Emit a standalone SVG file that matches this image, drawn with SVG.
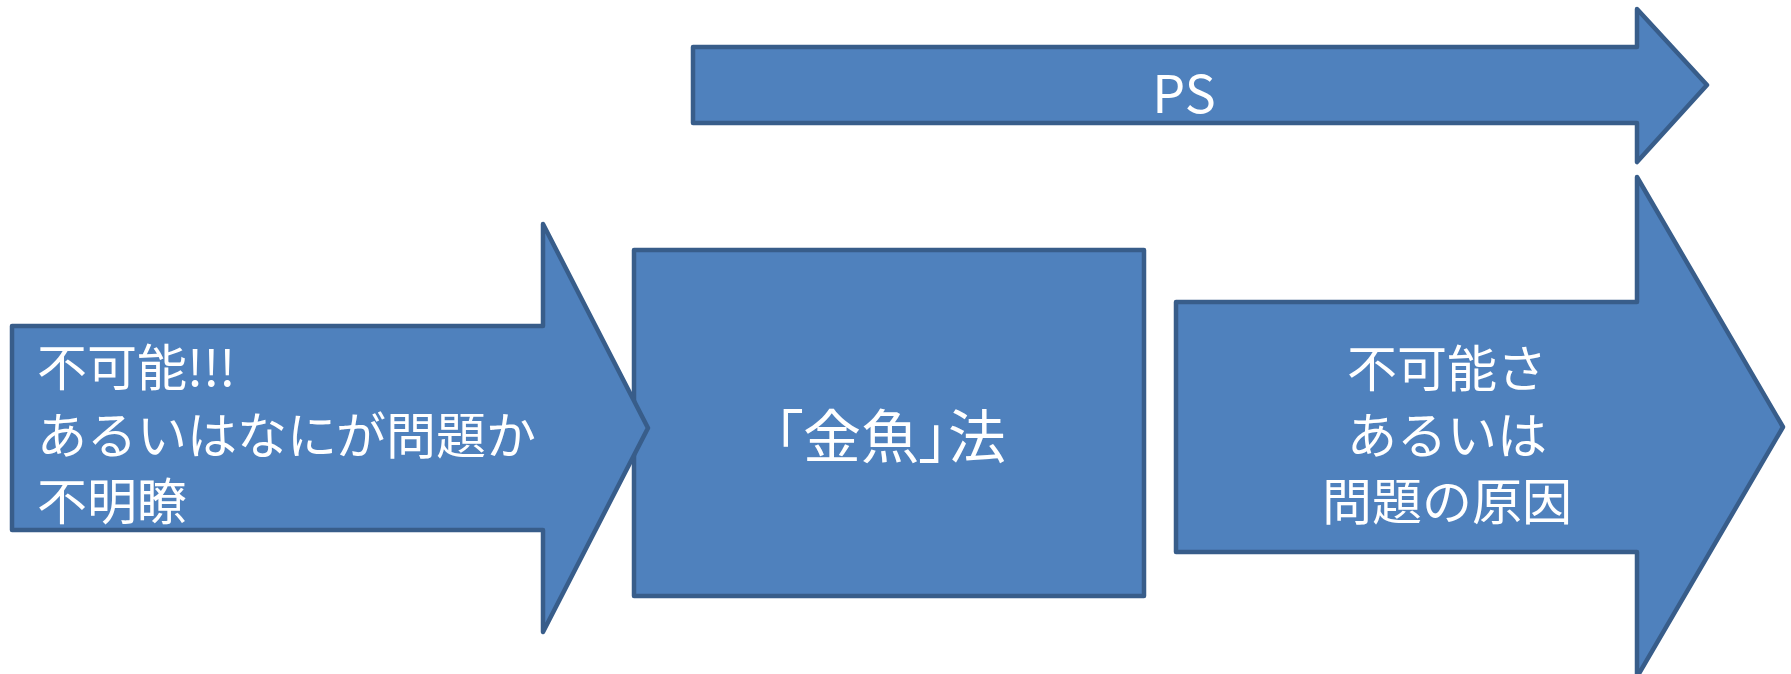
<svg xmlns="http://www.w3.org/2000/svg" width="1791" height="674" viewBox="0 0 1791 674">
<style>
.shape{fill:#4F81BD;stroke:#385D8A;stroke-width:4.5;stroke-linejoin:round}
.t{fill:#FFFFFF;font-family:"Noto Sans CJK JP","Noto Sans",sans-serif;font-size:50px}
.c{text-anchor:middle}
</style>
<rect width="1791" height="674" fill="#FFFFFF"/>
<g id="connectors"></g>
<g id="node-ps">
<polygon class="shape" points="693,47 1637,47 1637,9 1707,85 1637,162 1637,123 693,123"/>
<text class="t c" x="1184" y="113" style="font-size:52px">PS</text>
</g>
<g id="node-kingyo">
<rect class="shape" x="634" y="250" width="510" height="346"/>
<text class="t c" x="890" y="458" style="font-size:58px;font-feature-settings:'palt'">「金魚」法</text>
</g>
<g id="node-left">
<polygon class="shape" points="12,326 543,326 543,224 648,428 543,632 543,530 12,530"/>
<text class="t" x="37" y="386">不可能!!!</text>
<text class="t" x="37" y="454">あるいはなにが問題か</text>
<text class="t" x="37" y="520">不明瞭</text>
</g>
<g id="node-right">
<polygon class="shape" points="1176,302 1637,302 1637,177 1783,427 1637,677 1637,552 1176,552"/>
<text class="t c" x="1447" y="387">不可能さ</text>
<text class="t c" x="1447" y="454">あるいは</text>
<text class="t c" x="1447" y="520">問題の原因</text>
</g>
</svg>
